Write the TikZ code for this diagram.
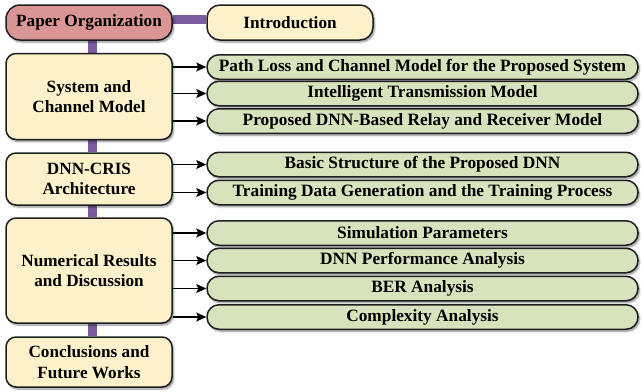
\documentclass[tikz,border=0pt]{standalone}
\usepackage{fontspec}
\setmainfont{Liberation Serif}
\usetikzlibrary{arrows.meta,shadows.blur,backgrounds}
\definecolor{pored}{HTML}{D99694}
\definecolor{beige}{HTML}{FDF1CB}
\definecolor{sgreen}{HTML}{D7E3BD}
\definecolor{barpurple}{HTML}{7B5C9E}
\definecolor{edge}{HTML}{1E1E1E}
\tikzset{
  base/.style={draw=edge, line width=1.5pt, inner sep=0pt, align=center,
    font=\bfseries\fontsize{17.2}{20.5}\selectfont,
    blur shadow={shadow xshift=1.5pt, shadow yshift=-2pt, shadow blur steps=6, shadow opacity=45}},
  mainbox/.style={base, fill=beige, rounded corners=10pt, minimum width=166pt},
  pobox/.style={base, fill=pored, rounded corners=14pt, minimum width=166pt, minimum height=35pt},
  subbox/.style={base, fill=sgreen, rounded corners=12pt, minimum width=431pt, minimum height=24.5pt,
    font=\bfseries\fontsize{17.3}{19}\selectfont},
  bar/.style={draw=barpurple, line width=9pt},
  arr/.style={draw=black, line width=1.1pt, -{Stealth[length=10pt,width=9pt,inset=2pt]}}
}
\begin{document}
\begin{tikzpicture}[x=1pt,y=-1pt]
\useasboundingbox (0,0) rectangle (642,391);
\node[pobox] (po) at (89,22.5) {Paper Organization};
\node[mainbox, minimum height=35pt, rounded corners=13pt] (intro) at (290,22.5) {Introduction};
\node[mainbox, minimum height=86pt] (scm) at (89,96.5) {System and\\Channel Model};
\node[mainbox, minimum height=52pt] (dnn) at (89,179) {DNN-CRIS\\Architecture};
\node[mainbox, minimum height=105pt] (num) at (89,270.5) {Numerical Results\\and Discussion};
\node[mainbox, minimum height=50pt] (con) at (89,362) {Conclusions and\\Future Works};

\node[subbox] (g1) at (422.5,67) {Path Loss and Channel Model for the Proposed System};
\node[subbox] (g2) at (422.5,93.5) {Intelligent Transmission Model};
\node[subbox] (g3) at (422.5,121) {Proposed DNN-Based Relay and Receiver Model};
\node[subbox] (g4) at (422.5,164.5) {Basic Structure of the Proposed DNN};
\node[subbox] (g5) at (422.5,192.5) {Training Data Generation and the Training Process};
\node[subbox] (g6) at (422.5,233) {Simulation Parameters};
\node[subbox] (g7) at (422.5,260.5) {DNN Performance Analysis};
\node[subbox] (g8) at (422.5,288.5) {BER Analysis};
\node[subbox] (g9) at (422.5,317) {Complexity Analysis};

\begin{scope}[on background layer]
\draw[bar] ([yshift=3pt]po.east) -- ([yshift=3pt]intro.west);
\draw[bar] ([xshift=3.5pt]po.south) -- ([xshift=3.5pt]scm.north);
\draw[bar] ([xshift=3.5pt]scm.south) -- ([xshift=3.5pt]dnn.north);
\draw[bar] ([xshift=3.5pt]dnn.south) -- ([xshift=3.5pt]num.north);
\draw[bar] ([xshift=3.5pt]num.south) -- ([xshift=3.5pt]con.north);
\end{scope}

\foreach \g in {g1,g2,g3} \draw[arr] (scm.east |- \g.west) -- (\g.west);
\foreach \g in {g4,g5} \draw[arr] (dnn.east |- \g.west) -- (\g.west);
\foreach \g in {g6,g7,g8,g9} \draw[arr] (num.east |- \g.west) -- (\g.west);
\end{tikzpicture}
\end{document}
